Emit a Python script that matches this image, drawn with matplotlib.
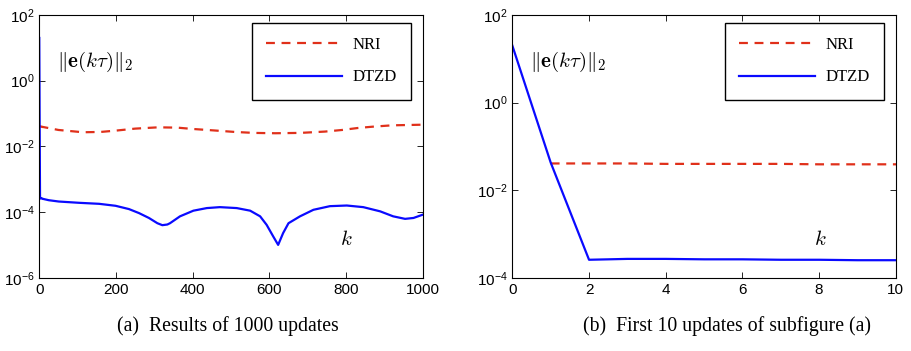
import matplotlib
matplotlib.use("Agg")
import matplotlib.pyplot as plt
from matplotlib.ticker import NullLocator

plt.rcParams["font.family"] = "Liberation Sans"
plt.rcParams["mathtext.fontset"] = "cm"
plt.rcParams["xtick.direction"] = "in"
plt.rcParams["ytick.direction"] = "in"
plt.rcParams["xtick.top"] = True
plt.rcParams["ytick.right"] = True

# error norm per update k
dtzd_k = [0, 1, 2, 3, 4, 5, 6, 7, 8, 9, 10, 25, 51, 104, 156, 199, 234, 260, 286,
          308, 321, 334, 341, 367, 402, 437, 471, 515, 550, 576, 593, 610, 623,
          636, 650, 680, 715, 758, 802, 845, 889, 923, 954, 976, 1000]
dtzd_err = [20.0, 0.0427, 2.57e-4, 2.69e-4, 2.69e-4, 2.63e-4, 2.63e-4, 2.57e-4,
            2.57e-4, 2.51e-4, 2.51e-4, 2.29e-4, 2.09e-4, 1.91e-4, 1.78e-4, 1.55e-4,
            1.23e-4, 9.3e-5, 6.6e-5, 4.57e-5, 3.98e-5, 4.17e-5, 4.57e-5, 7.4e-5,
            1.10e-4, 1.32e-4, 1.41e-4, 1.32e-4, 1.10e-4, 7.4e-5, 4.07e-5, 1.82e-5,
            1.0e-5, 2.29e-5, 4.57e-5, 7.4e-5, 1.17e-4, 1.51e-4, 1.58e-4, 1.41e-4,
            1.05e-4, 7.4e-5, 6.2e-5, 6.6e-5, 8.3e-5]

nri_k = [1, 2, 3, 4, 5, 6, 7, 8, 9, 10, 50, 114, 160, 200, 250, 310, 360, 400,
         450, 510, 560, 615, 680, 745, 790, 831, 870, 920, 960, 1000]
nri_err = [0.0407, 0.0407, 0.0407, 0.0398, 0.0398, 0.0398, 0.0398, 0.0389, 0.0389,
           0.0389, 0.0316, 0.0269, 0.0275, 0.0302, 0.0347, 0.0380, 0.0372, 0.0339,
           0.0309, 0.0275, 0.0257, 0.0251, 0.0257, 0.0282, 0.0316, 0.0363, 0.0398,
           0.0437, 0.0447, 0.0457]

panels = [
    dict(xlim=(0, 1000), xticks=[0, 200, 400, 600, 800, 1000],
         ylim=(1e-6, 1e2), yticks=[1e-6, 1e-4, 1e-2, 1e0, 1e2],
         caption="(a)  Results of 1000 updates", cx=0.250),
    dict(xlim=(0, 10), xticks=[0, 2, 4, 6, 8, 10],
         ylim=(1e-4, 1e2), yticks=[1e-4, 1e-2, 1e0, 1e2],
         caption="(b)  First 10 updates of subfigure (a)", cx=0.7975),
]
lefts = [0.0431, 0.5624]

fig = plt.figure(figsize=(9.11, 3.51), dpi=100)

for left, p in zip(lefts, panels):
    ax = fig.add_axes([left, 0.2088, 0.4209, 0.7484])
    ax.semilogy(nri_k, nri_err, ls=(0, (4, 3)), color="#e0301a", lw=1.6, label="NRI")
    ax.semilogy(dtzd_k, dtzd_err, color="#0a0aff", lw=1.6, label="DTZD")
    ax.set_xlim(*p["xlim"])
    ax.set_ylim(*p["ylim"])
    ax.set_xticks(p["xticks"])
    ax.set_yticks(p["yticks"])
    ax.yaxis.set_minor_locator(NullLocator())
    ax.tick_params(labelsize=11, length=4, width=0.6)
    for s in ax.spines.values():
        s.set_linewidth(0.8)
    leg = ax.legend(loc="upper right", bbox_to_anchor=(0.969, 0.971), borderaxespad=0,
                    fancybox=False, edgecolor="black", framealpha=1,
                    prop={"family": "Liberation Serif", "size": 12},
                    handlelength=4.6, handletextpad=0.6, labelspacing=1.0,
                    borderpad=0.85)
    leg.get_frame().set_linewidth(1.0)
    ax.text(0.045, 0.82, r"$\|\mathbf{e}(k\tau)\|_2$", transform=ax.transAxes,
            fontsize=15, va="center", ha="left")
    ax.text(0.802, 0.146, r"$k$", transform=ax.transAxes, fontsize=15,
            va="center", ha="center")
    fig.text(p["cx"], 0.071, p["caption"], ha="center", va="center",
             family="Liberation Serif", fontsize=14.2)

fig.savefig("out.png", dpi=100)
